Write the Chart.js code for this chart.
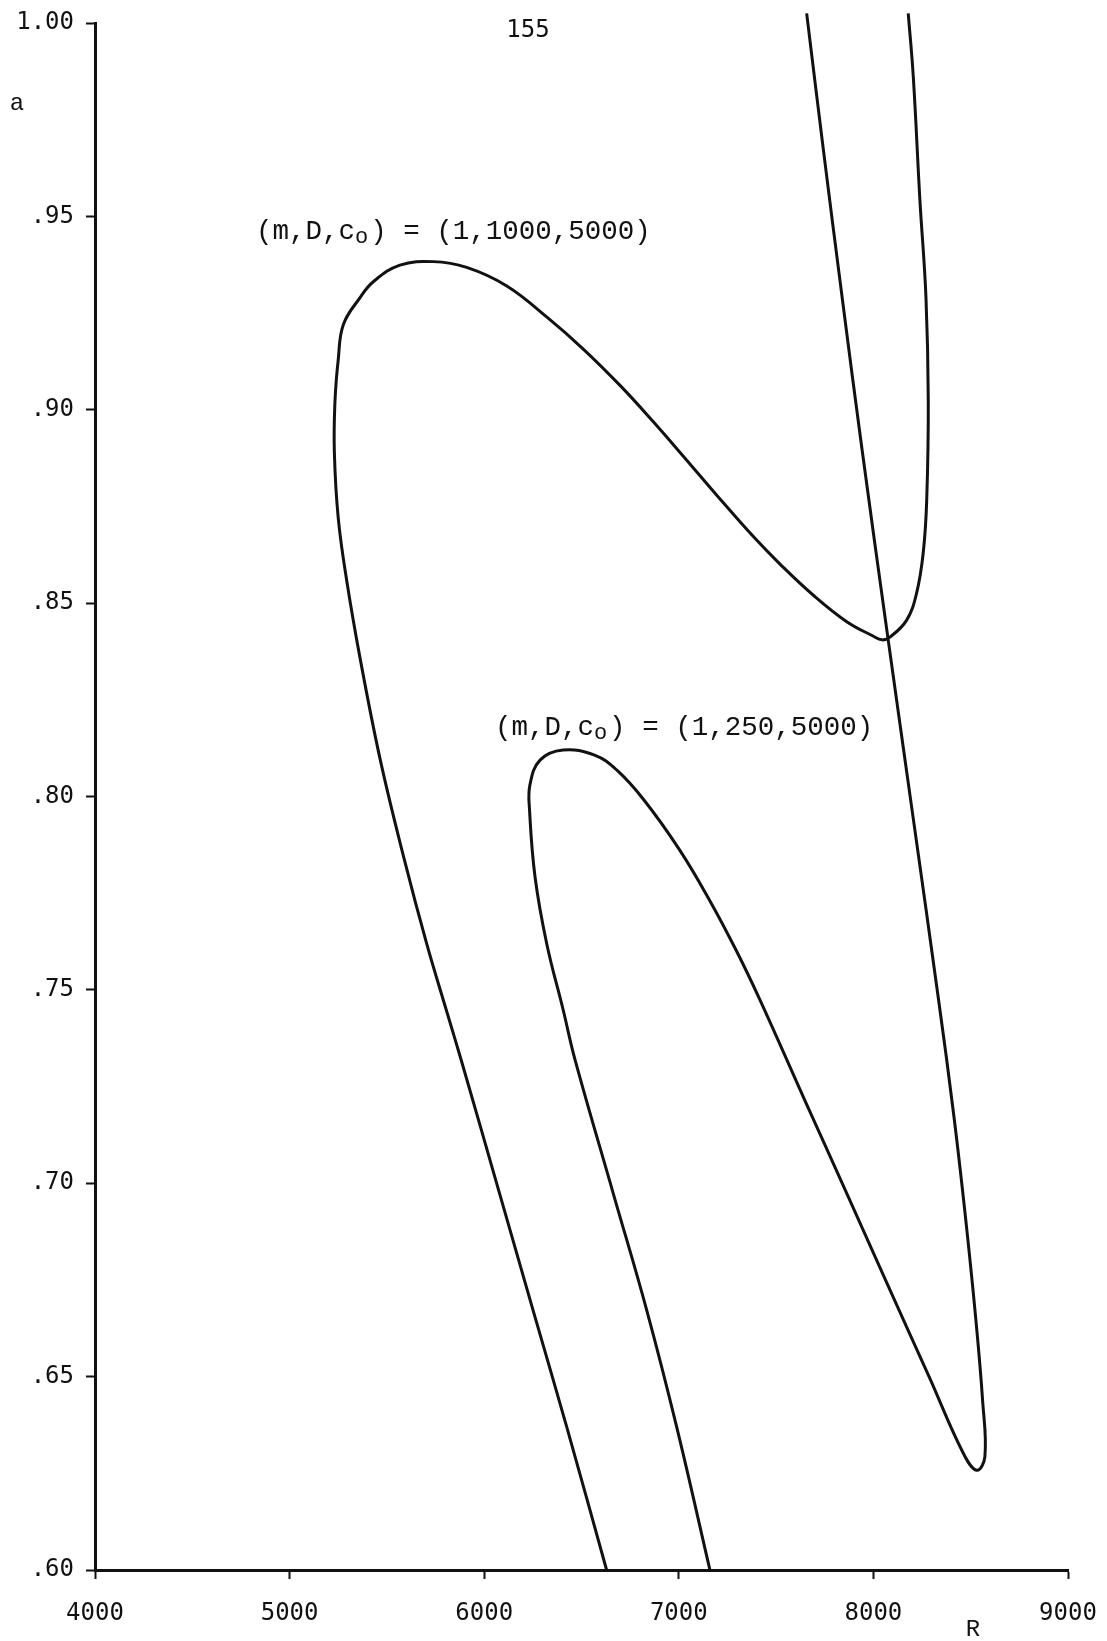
<!DOCTYPE html>
<html>
<head>
<meta charset="utf-8">
<script src="https://cdn.jsdelivr.net/npm/chart.js@4/dist/chart.umd.min.js"></script>
<style>
  body { margin: 0; background: #fff; }
  #wrap { width: 1107px; height: 1641px; }
</style>
</head>
<body>
<div id="wrap"><canvas id="chart" width="1107" height="1641"></canvas></div>
<script>
// axis ticks
const rTicks = [4000, 5000, 6000, 7000, 8000, 9000];
const aTicks = [0.60, 0.65, 0.70, 0.75, 0.80, 0.85, 0.90, 0.95, 1.00];

// (m,D,c0) = (1,1000,5000): from the bottom up the left side, over the top, down to the dip, up the right
const curve1R = [6629, 6424, 6252, 6081, 5881, 5804, 5704, 5588, 5468, 5365, 5293, 5250, 5230, 5233, 5250, 5276, 5362, 5430, 5567, 5738, 5910, 6116, 6321, 6509, 6698, 6869, 7023, 7195, 7383, 7520, 7690, 7863, 7998, 8044, 8085, 8171, 8222, 8256, 8274, 8282, 8270, 8239, 8205, 8179];
const curve1A = [0.600, 0.637, 0.667, 0.697, 0.732, 0.745, 0.762, 0.784, 0.809, 0.835, 0.856, 0.872, 0.889, 0.902, 0.913, 0.922, 0.929, 0.9331, 0.9374, 0.9383, 0.9368, 0.932, 0.924, 0.9157, 0.9063, 0.8969, 0.888, 0.8779, 0.8672, 0.8601, 0.8521, 0.8452, 0.8415, 0.8405, 0.8412, 0.8456, 0.8526, 0.863, 0.8767, 0.9025, 0.9292, 0.9542, 0.9861, 1.0025];

// (m,D,c0) = (1,250,5000): long branch from the top, hook at lower right, inner tongue, down to the axis
const curve2R = [7657, 7743, 7841, 7942, 8076, 8206, 8335, 8414, 8473, 8525, 8561, 8573, 8531, 8462, 8286, 8070, 7863, 7647, 7417, 7294, 7158, 7004, 6821, 6682, 6567, 6405, 6287, 6235, 6233, 6261, 6321, 6406, 6467, 6663, 6835, 6989, 7160];
const curve2A = [1.0025, 0.9672, 0.9284, 0.8896, 0.8405, 0.7939, 0.7474, 0.7172, 0.6913, 0.6655, 0.6439, 0.6293, 0.6258, 0.6302, 0.6500, 0.6741, 0.6974, 0.7215, 0.7474, 0.7603, 0.7732, 0.7862, 0.7991, 0.8068, 0.8107, 0.8120, 0.8094, 0.8030, 0.7965, 0.7793, 0.7620, 0.7448, 0.7319, 0.6974, 0.6672, 0.6370, 0.600];

// curve labels: [before subscript, subscript, after], anchored at (R, a)
const curveLabels = [
  { parts: ['(m,D,c', 'o', ') = (1,1000,5000)'], r: 4827, a: 0.946 },
  { parts: ['(m,D,c', 'o', ') = (1,250,5000)'], r: 6055, a: 0.8177 }
];

function toPoints(xs, ys) {
  return xs.map((x, i) => ({ x: x, y: ys[i] }));
}

const MONO = '"Liberation Mono", "Courier New", monospace';
const NUMS = '"DejaVu Sans Mono", monospace';

const textPlugin = {
  id: 'paperText',
  afterDraw(chart) {
    const ctx = chart.ctx;
    const xs = chart.scales.x, ys = chart.scales.y;
    ctx.save();
    ctx.fillStyle = '#111';
    ctx.textBaseline = 'middle';

    curveLabels.forEach(lb => {
      let x = xs.getPixelForValue(lb.r);
      const y = ys.getPixelForValue(lb.a);
      ctx.textAlign = 'left';
      ctx.font = '27.5px ' + MONO;
      ctx.fillText(lb.parts[0], x, y);
      x += ctx.measureText(lb.parts[0]).width;
      ctx.font = '22px ' + MONO;
      ctx.fillText(lb.parts[1], x, y + 5);
      x += ctx.measureText(lb.parts[1]).width + 2;
      ctx.font = '27.5px ' + MONO;
      ctx.fillText(lb.parts[2], x, y);
    });

    // axis names and page number
    ctx.textAlign = 'center';
    ctx.font = '24px ' + MONO;
    ctx.fillText('a', 17, 104);
    ctx.fillText('R', xs.getPixelForValue(8512), 1630);
    ctx.font = '24px ' + NUMS;
    ctx.fillText('155', 528, 31);
    ctx.restore();
  }
};

new Chart(document.getElementById('chart'), {
  type: 'scatter',
  data: {
    datasets: [
      { data: toPoints(curve1R, curve1A) },
      { data: toPoints(curve2R, curve2A) }
    ]
  },
  options: {
    responsive: false,
    animation: false,
    layout: { padding: { top: 23, right: 39, left: 0, bottom: 0 } },
    elements: {
      point: { radius: 0, hoverRadius: 0 },
      line: { borderColor: '#111', borderWidth: 3, tension: 0.4, fill: false }
    },
    datasets: { scatter: { showLine: true, clip: false } },
    plugins: {
      legend: { display: false },
      tooltip: { enabled: false }
    },
    scales: {
      x: {
        type: 'linear',
        min: 4000,
        max: 9000,
        afterFit(scale) {
          scale.height = 71;
          scale.paddingLeft = 0;
          scale.paddingRight = 0;
        },
        afterBuildTicks(scale) { scale.ticks = rTicks.map(v => ({ value: v })); },
        border: { display: true, color: '#111', width: 3 },
        grid: { drawOnChartArea: false, drawTicks: true, tickLength: 9, tickWidth: 2, tickColor: '#111' },
        ticks: {
          color: '#111',
          padding: 20,
          font: { family: NUMS, size: 24 },
          callback: v => String(v)
        }
      },
      y: {
        type: 'linear',
        min: 0.6,
        max: 1.0,
        afterFit(scale) {
          scale.width = 95;
          scale.paddingTop = 0;
          scale.paddingBottom = 0;
        },
        afterBuildTicks(scale) { scale.ticks = aTicks.map(v => ({ value: v })); },
        border: { display: true, color: '#111', width: 3 },
        grid: { drawOnChartArea: false, drawTicks: true, tickLength: 9, tickWidth: 2, tickColor: '#111' },
        ticks: {
          color: '#111',
          padding: 12,
          font: { family: NUMS, size: 24 },
          callback: v => v >= 0.999 ? '1.00' : v.toFixed(2).replace(/^0/, '')
        }
      }
    }
  },
  plugins: [textPlugin]
});
</script>
</body>
</html>
